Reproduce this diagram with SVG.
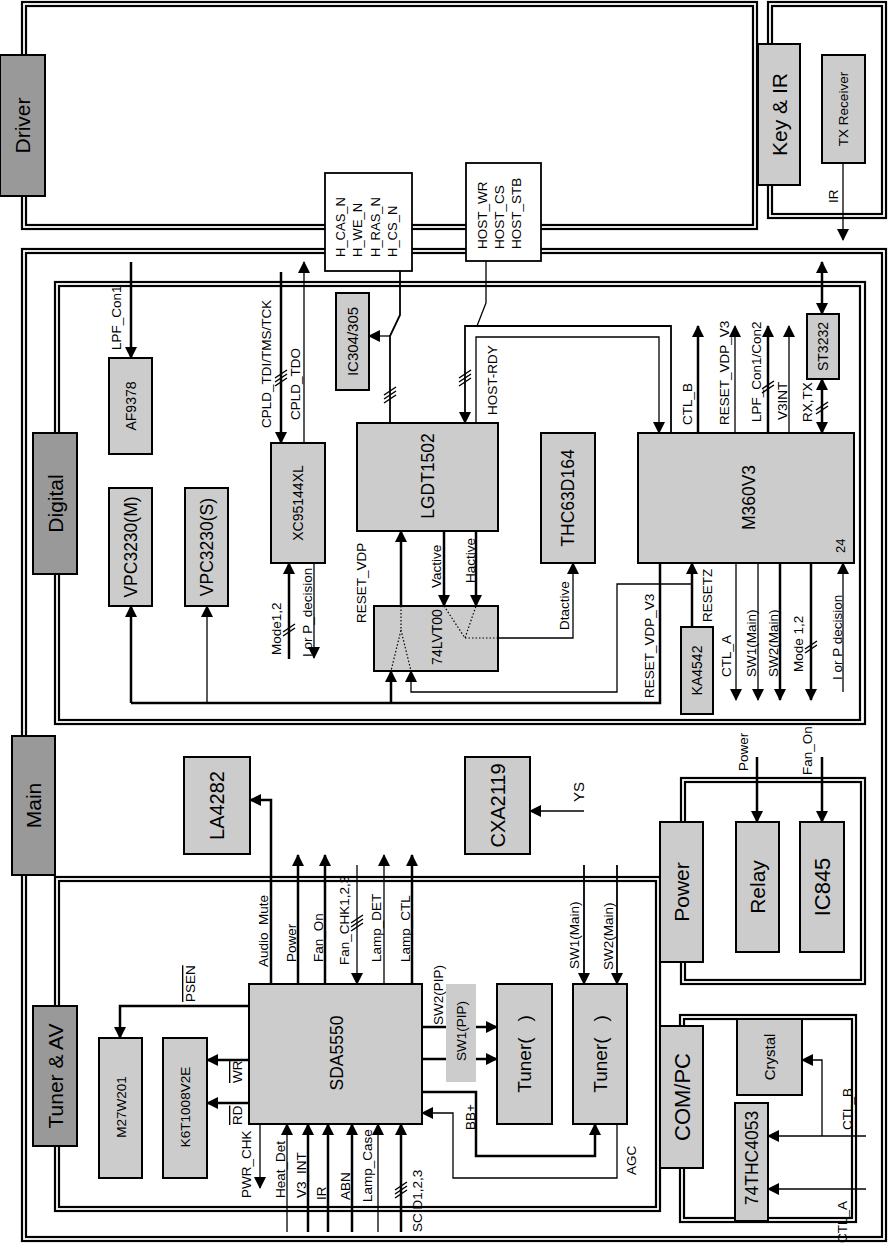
<svg xmlns="http://www.w3.org/2000/svg" width="888" height="1244" viewBox="0 0 888 1244">
<defs>
<style>
text{font-family:"Liberation Sans",Arial,sans-serif;fill:#000}
.s{font-size:13.5px}
.fr{fill:none;stroke:#000;stroke-width:2.2}
.lbd{fill:#999;stroke:#000;stroke-width:2}
.bx{fill:#ccc;stroke:#000;stroke-width:2}
.wb{fill:#fff;stroke:#000;stroke-width:1.8}
.tk{fill:none;stroke:#000;stroke-width:2.5}
.tn{fill:none;stroke:#000;stroke-width:1.3}
.md{fill:none;stroke:#000;stroke-width:1.8}
.dt{fill:none;stroke:#000;stroke-width:1.2;stroke-dasharray:1.5 2}
.h{fill:none;stroke:#000;stroke-width:1.5}
.ae{marker-end:url(#ar)}
.as{marker-start:url(#ar)}
.ov{text-decoration:overline}
</style>
<marker id="ar" viewBox="0 0 12 12" refX="11" refY="6" markerWidth="12" markerHeight="12" markerUnits="userSpaceOnUse" orient="auto-start-reverse"><path d="M0,0L12,6L0,12z"/></marker>
</defs>
<rect width="888" height="1244" fill="#fff"/>

<g id="frames">
<rect class="fr" x="22" y="2" width="735" height="227"/>
<rect class="fr" x="26" y="6" width="727" height="219"/>
<rect class="fr" x="768" y="2" width="118" height="216"/>
<rect class="fr" x="772" y="6" width="110" height="208"/>
<rect class="fr" x="22" y="249" width="864" height="992"/>
<rect class="fr" x="26" y="253" width="856" height="984"/>
<rect class="fr" x="55" y="282" width="810" height="442"/>
<rect class="fr" x="59" y="286" width="801" height="434"/>
<rect class="fr" x="55" y="877" width="605" height="334"/>
<rect class="fr" x="59" y="881" width="597" height="326"/>
<rect class="fr" x="681" y="778" width="184" height="206"/>
<rect class="fr" x="685" y="782" width="176" height="198"/>
<rect class="fr" x="680" y="1015" width="176" height="207"/>
<rect class="fr" x="684" y="1019" width="168" height="199"/>
</g>

<g id="connectors">
<path class="tn ae" d="M843,163V240"/>
<path class="md" d="M400,271V315L390,336V423"/>
<path class="tn ae" d="M390,336H369"/>
<path class="tn" d="M486,261V303L477,326"/>
<path class="md ae" d="M671,433V326H465V423"/>
<path class="tn ae" d="M476,423V337H659V433"/>
<path class="tk ae" d="M131,262V358"/>
<path class="tk ae" d="M281,272V443"/>
<path class="tn ae" d="M304,443V262"/>
<path class="tk ae" d="M401,606V531"/>
<path class="tk ae" d="M444,531V606"/>
<path class="tk ae" d="M476,531V606"/>
<path class="tn ae" d="M498,638H573V563"/>
<path class="tk ae" d="M289,659V563"/>
<path class="tn ae" d="M314,563V658"/>
<path class="tk ae" d="M131,703V606"/>
<path class="tn ae" d="M207,703V606"/>
<path class="tk" d="M131,703H660V563"/>
<path class="tk ae" d="M391,703V671"/>
<path class="tn ae" d="M692,584H617V692H411V671"/>
<path class="tk ae" d="M692,627V563"/>
<path class="tk ae" d="M698,433V326"/>
<path class="tn ae" d="M735,433V326"/>
<path class="tk ae" d="M768,433V326"/>
<path class="tn ae" d="M789,433V326"/>
<path class="tk ae as" d="M822,379V433"/>
<path class="tk ae as" d="M822,262V314"/>
<path class="tn ae" d="M736,563V700"/>
<path class="tn ae" d="M758,563V700"/>
<path class="tk ae" d="M780,563V700"/>
<path class="tk ae" d="M811,563V700"/>
<path class="tn ae" d="M843,692V563"/>
<path class="tk ae" d="M271,984V800H250"/>
<path class="tk ae" d="M298,984V855"/>
<path class="tk ae" d="M325,984V855"/>
<path class="tn ae" d="M357,865V984"/>
<path class="tn ae" d="M384,984V855"/>
<path class="tk ae" d="M412,984V855"/>
<path class="tn ae" d="M584,811H530"/>
<path class="md ae" d="M584,865V984"/>
<path class="md ae" d="M617,865V984"/>
<path class="tk ae" d="M757,757V822"/>
<path class="tk ae" d="M822,757V822"/>
<path class="tk ae" d="M249,1006H120V1038"/>
<path class="tk ae" d="M249,1060H207"/>
<path class="tk ae" d="M249,1103H207"/>
<path class="tn ae" d="M260,1124V1188"/>
<path class="tn ae" d="M287,1232V1124"/>
<path class="tk ae" d="M308,1232V1124"/>
<path class="tk ae" d="M328,1232V1124"/>
<path class="tk ae" d="M352,1232V1124"/>
<path class="tn ae" d="M378,1232V1124"/>
<path class="tk ae" d="M401,1232V1124"/>
<path class="tk ae" d="M422,1027H497"/>
<path class="tk ae" d="M422,1059H497"/>
<path class="tk ae" d="M422,1092H476V1156H595V1124"/>
<path class="tn ae" d="M617,1124V1178H453V1113H422"/>
<path class="tn ae" d="M866,1136H768"/>
<path class="tn ae" d="M822,1136V1060H802"/>
<path class="tn ae" d="M866,1189H768"/>
<g id="hatches">
<path class="h" d="M275,378L287,370M275,382L287,374M275,386L287,378"/>
<path class="h" d="M384,395L396,387M384,399L396,391M384,403L396,395"/>
<path class="h" d="M459,378L471,370M459,382L471,374M459,386L471,378"/>
<path class="h" d="M762,389L774,381M762,393L774,385"/>
<path class="h" d="M816,410L828,402M816,414L828,406"/>
<path class="h" d="M283,632L295,624M283,636L295,628"/>
<path class="h" d="M805,649L817,641M805,653L817,645"/>
<path class="h" d="M351,923L363,915M351,927L363,919M351,931L363,923"/>
<path class="h" d="M395,1190L407,1182M395,1194L407,1186M395,1198L407,1190"/>
</g>
</g>

<g id="labels" class="s">
<text transform="translate(838,203) rotate(-90)">IR</text>
<text transform="translate(121,350) rotate(-90)">LPF_Con1</text>
<text transform="translate(271,428) rotate(-90)">CPLD_TDI/TMS/TCK</text>
<text transform="translate(300,420) rotate(-90)">CPLD_TDO</text>
<text transform="translate(497,415) rotate(-90)">HOST-RDY</text>
<text transform="translate(366,623) rotate(-90)">RESET_VDP</text>
<text transform="translate(441,588) rotate(-90)">Vactive</text>
<text transform="translate(475,583) rotate(-90)">Hactive</text>
<text transform="translate(569,630) rotate(-90)">Dtactive</text>
<text transform="translate(281,655) rotate(-90)">Mode1,2</text>
<text transform="translate(312,657) rotate(-90)">I or P_decision</text>
<text transform="translate(692,425) rotate(-90)">CTL_B</text>
<text transform="translate(729,425) rotate(-90)">RESET_VDP_V3</text>
<text transform="translate(761,422) rotate(-90)">LPF_Con1/Con2</text>
<text transform="translate(787,420) rotate(-90)">V3INT</text>
<text transform="translate(812,422) rotate(-90)">RX,TX</text>
<text transform="translate(654,698) rotate(-90)">RESET_VDP_V3</text>
<text transform="translate(712,622) rotate(-90)">RESETZ</text>
<text transform="translate(731,677) rotate(-90)">CTL_A</text>
<text transform="translate(756,677) rotate(-90)">SW1(Main)</text>
<text transform="translate(778,677) rotate(-90)">SW2(Main)</text>
<text transform="translate(803,672) rotate(-90)">Mode 1,2</text>
<text transform="translate(842,680) rotate(-90)">I or P decision</text>
<text transform="translate(584,802) rotate(-90)" style="font-size:15px">YS</text>
<text transform="translate(748,771) rotate(-90)">Power</text>
<text transform="translate(812,775) rotate(-90)">Fan_On</text>
<text transform="translate(268,967) rotate(-90)">Audio_Mute</text>
<text transform="translate(296,962) rotate(-90)">Power</text>
<text transform="translate(323,962) rotate(-90)">Fan_On</text>
<text transform="translate(349,965) rotate(-90)">Fan_CHK1,2,3</text>
<text transform="translate(381,962) rotate(-90)">Lamp_DET</text>
<text transform="translate(410,962) rotate(-90)">Lamp_CTL</text>
<text transform="translate(443,1025) rotate(-90)">SW2(PIP)</text>
<text transform="translate(579,969) rotate(-90)">SW1(Main)</text>
<text transform="translate(613,970) rotate(-90)">SW2(Main)</text>
<text transform="translate(475,1130) rotate(-90)">BB+</text>
<text transform="translate(636,1175) rotate(-90)">AGC</text>
<text class="ov" transform="translate(195,1002) rotate(-90)">PSEN</text>
<text class="ov" transform="translate(242,1083) rotate(-90)">WR</text>
<text class="ov" transform="translate(242,1125) rotate(-90)">RD</text>
<text transform="translate(251,1198) rotate(-90)">PWR_CHK</text>
<text transform="translate(285,1198) rotate(-90)">Heat_Det</text>
<text transform="translate(306,1198) rotate(-90)">V3_INT</text>
<text transform="translate(326,1200) rotate(-90)">IR</text>
<text transform="translate(350,1200) rotate(-90)">ABN</text>
<text transform="translate(372,1202) rotate(-90)">Lamp_Case</text>
<text transform="translate(422,1232) rotate(-90)">SCID1,2,3</text>
<text transform="translate(852,1130) rotate(-90)">CTL_B</text>
<text transform="translate(847,1243) rotate(-90)">CTL_A</text>
</g>

<g id="node-driver"><rect class="lbd" x="0" y="55" width="45" height="141"/><text text-anchor="middle" style="font-size:21px" transform="translate(30,125.5) rotate(-90)">Driver</text></g>
<g id="node-keyir"><rect class="bx" x="758" y="44" width="42" height="141"/><text text-anchor="middle" style="font-size:21px" transform="translate(786.5,114.5) rotate(-90)">Key &amp; IR</text></g>
<g id="node-txreceiver"><rect class="bx" x="822" y="55" width="43" height="108"/><text text-anchor="middle" style="font-size:13.5px" transform="translate(848,109) rotate(-90)">TX Receiver</text></g>
<g id="node-hsig"><rect class="wb" x="325" y="173" width="87" height="98"/>
<text class="s" style="font-size:13px" transform="translate(345,257) rotate(-90)">H_CAS_N</text>
<text class="s" style="font-size:13px" transform="translate(362,257) rotate(-90)">H_WE_N</text>
<text class="s" style="font-size:13px" transform="translate(380,257) rotate(-90)">H_RAS_N</text>
<text class="s" style="font-size:13px" transform="translate(397,257) rotate(-90)">H_CS_N</text></g>
<g id="node-hostsig"><rect class="wb" x="466" y="163" width="75" height="98"/>
<text class="s" transform="translate(487,249) rotate(-90)">HOST_WR</text>
<text class="s" transform="translate(504,249) rotate(-90)">HOST_CS</text>
<text class="s" transform="translate(521,249) rotate(-90)">HOST_STB</text></g>
<g id="node-main"><rect class="lbd" x="12" y="736" width="43" height="139"/><text text-anchor="middle" style="font-size:21px" transform="translate(41,805.5) rotate(-90)">Main</text></g>
<g id="node-digital"><rect class="lbd" x="33" y="433" width="44" height="141"/><text text-anchor="middle" style="font-size:21px" transform="translate(62.5,503.5) rotate(-90)">Digital</text></g>
<g id="node-tunerav"><rect class="lbd" x="33" y="1006" width="44" height="140"/><text text-anchor="middle" style="font-size:21px" transform="translate(62.5,1076) rotate(-90)">Tuner &amp; AV</text></g>
<g id="node-power"><rect class="bx" x="660" y="822" width="43" height="140"/><text text-anchor="middle" style="font-size:21px" transform="translate(689,892) rotate(-90)">Power</text></g>
<g id="node-compc"><rect class="bx" x="660" y="1026" width="43" height="142"/><text text-anchor="middle" style="font-size:22px" transform="translate(689.5,1097) rotate(-90)">COM/PC</text></g>

<g id="node-af9378"><rect class="bx" x="109" y="358" width="43" height="96"/><text text-anchor="middle" style="font-size:14px" transform="translate(135.5,406) rotate(-90)">AF9378</text></g>
<g id="node-vpcm"><rect class="bx" x="109" y="488" width="43" height="118"/><text text-anchor="middle" style="font-size:17.5px" transform="translate(136.5,547) rotate(-90)">VPC3230(M)</text></g>
<g id="node-vpcs"><rect class="bx" x="185" y="488" width="43" height="118"/><text text-anchor="middle" style="font-size:17.5px" transform="translate(212.5,547) rotate(-90)">VPC3230(S)</text></g>
<g id="node-xc95144xl"><rect class="bx" x="271" y="443" width="54" height="120"/><text text-anchor="middle" style="font-size:14px" transform="translate(303,503) rotate(-90)">XC95144XL</text></g>
<g id="node-ic304"><rect class="bx" x="336" y="293" width="33" height="97"/><text text-anchor="middle" style="font-size:15px" transform="translate(357.5,341.5) rotate(-90)">IC304/305</text></g>
<g id="node-lgdt1502"><rect class="bx" x="357" y="423" width="141" height="108"/><text text-anchor="middle" style="font-size:17.5px" transform="translate(434,476) rotate(-90)">LGDT1502</text></g>
<g id="node-74lvt00"><rect class="bx" x="374" y="606" width="124" height="65"/><text text-anchor="middle" style="font-size:14px" transform="translate(441.5,637) rotate(-90)">74LVT00</text>
<path class="dt" d="M401,606V630L391,671M401,630L411,671M444,606L465,638L476,606M465,638H498"/></g>
<g id="node-thc63d164"><rect class="bx" x="541" y="433" width="54" height="130"/><text text-anchor="middle" style="font-size:17.5px" transform="translate(574,498) rotate(-90)">THC63D164</text></g>
<g id="node-m360v3"><rect class="bx" x="638" y="433" width="216" height="130"/><text text-anchor="middle" style="font-size:17.5px" transform="translate(754.5,497.5) rotate(-90)">M360V3</text><text style="font-size:13px" transform="translate(845,553) rotate(-90)">24</text></g>
<g id="node-st3232"><rect class="bx" x="807" y="314" width="32" height="65"/><text text-anchor="middle" style="font-size:14px" transform="translate(828,346.5) rotate(-90)">ST3232</text></g>
<g id="node-ka4542"><rect class="bx" x="681" y="627" width="32" height="87"/><text text-anchor="middle" style="font-size:14px" transform="translate(702,670.5) rotate(-90)">KA4542</text></g>
<g id="node-la4282"><rect class="bx" x="184" y="757" width="66" height="97"/><text text-anchor="middle" style="font-size:20px" transform="translate(224,805.5) rotate(-90)">LA4282</text></g>
<g id="node-cxa2119"><rect class="bx" x="465" y="757" width="65" height="97"/><text text-anchor="middle" style="font-size:20px" transform="translate(504.5,805.5) rotate(-90)">CXA2119</text></g>
<g id="node-relay"><rect class="bx" x="736" y="822" width="43" height="130"/><text text-anchor="middle" style="font-size:21px" transform="translate(765,887) rotate(-90)">Relay</text></g>
<g id="node-ic845"><rect class="bx" x="800" y="822" width="44" height="130"/><text text-anchor="middle" style="font-size:22px" transform="translate(830,887) rotate(-90)">IC845</text></g>
<g id="node-crystal"><rect class="bx" x="737" y="1019" width="65" height="76"/><text text-anchor="middle" style="font-size:15px" transform="translate(775,1057) rotate(-90)">Crystal</text></g>
<g id="node-74thc4053"><rect class="bx" x="735" y="1103" width="33" height="118"/><text text-anchor="middle" style="font-size:17.5px" transform="translate(757.5,1158) rotate(-90)">74THC4053</text></g>
<g id="node-sda5550"><rect class="bx" x="249" y="984" width="173" height="140"/><text text-anchor="middle" style="font-size:17.5px" transform="translate(343,1053) rotate(-90)">SDA5550</text></g>
<g id="node-m27w201"><rect class="bx" x="99" y="1038" width="43" height="140"/><text text-anchor="middle" style="font-size:13.5px" transform="translate(125.5,1107) rotate(-90)">M27W201</text></g>
<g id="node-k6t1008v2e"><rect class="bx" x="163" y="1038" width="44" height="140"/><text text-anchor="middle" style="font-size:13.5px" transform="translate(190,1107) rotate(-90)">K6T1008V2E</text></g>
<g id="node-sw1pip"><rect x="446" y="984" width="30" height="98" fill="#ccc"/><text text-anchor="middle" style="font-size:13.5px" transform="translate(466,1031) rotate(-90)">SW1(PIP)</text></g>
<g id="node-tuner1"><rect class="bx" x="497" y="984" width="55" height="140"/><text text-anchor="middle" style="font-size:19px" transform="translate(531,1054) rotate(-90)" xml:space="preserve">Tuner(   )</text></g>
<g id="node-tuner2"><rect class="bx" x="573" y="984" width="54" height="140"/><text text-anchor="middle" style="font-size:19px" transform="translate(607,1054) rotate(-90)" xml:space="preserve">Tuner(   )</text></g>
</svg>
